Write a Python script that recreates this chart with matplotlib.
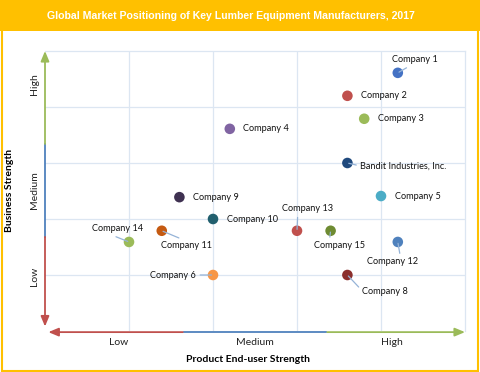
import matplotlib
matplotlib.use("Agg")
import matplotlib.pyplot as plt
from matplotlib.patches import Rectangle

companies = ["Company 1", "Company 2", "Company 3", "Company 4", "Bandit Industries, Inc.",
             "Company 5", "Company 9", "Company 10", "Company 13", "Company 15",
             "Company 11", "Company 14", "Company 12", "Company 6", "Company 8"]
product_strength = [4.20, 3.60, 3.80, 2.20, 3.60, 4.00, 1.60, 2.00, 3.00, 3.40, 1.39, 1.00, 4.20, 2.00, 3.60]
business_strength = [4.61, 4.20, 3.79, 3.61, 3.00, 2.41, 2.39, 2.00, 1.79, 1.79, 1.79, 1.59, 1.59, 1.00, 1.00]
colors = ["#4472C4", "#C0504D", "#9BBB59", "#8064A2", "#1F497D", "#4BACC6", "#3F3151",
          "#215F6E", "#C0504D", "#6E8B32", "#C55A11", "#9BBB59", "#4F81BD", "#F79646", "#8B2E2C"]
x_ticks = ["Low", "Medium", "High"]
y_ticks = ["Low", "Medium", "High"]

# label offsets in pixels (dx, dy), alignment, leader relpos (None = no leader)
label_style = [
    ((17, 13), "center", (0.45, 0.0)),
    ((14, 0), "left", None),
    ((14, 0), "left", None),
    ((13, 0), "left", None),
    ((13, -3), "left", (0.0, 0.5)),
    ((14, 0), "left", None),
    ((14, 0), "left", None),
    ((14, 0), "left", None),
    ((11, 22), "center", (0.3, 0.0)),
    ((9, -15), "center", (0.3, 1.0)),
    ((25, -15), "center", (0.5, 1.0)),
    ((-11, 13), "center", (0.3, 0.0)),
    ((-5, -20), "center", (0.65, 1.0)),
    ((-17, 0), "right", (1.0, 0.5)),
    ((15, -16), "left", (0.0, 0.5)),
]

W, H = 480, 372
fig = plt.figure(figsize=(W / 100, H / 100), dpi=100)
fig.patch.set_facecolor("white")

# border and title bar
fig.add_artist(Rectangle((1.5 / W, 1.5 / H), (W - 4) / W, (H - 3) / H, transform=fig.transFigure,
                         fill=False, edgecolor="#FFC000", lw=1.5))
fig.add_artist(Rectangle((0, 1 - 31 / H), 1, 31 / H, transform=fig.transFigure,
                         facecolor="#FFC000", edgecolor="none"))
fig.text(231 / W, 1 - 16 / H, "Global Market Positioning of Key Lumber Equipment Manufacturers, 2017",
         ha="center", va="center", color="white", fontsize=7.6, fontweight="bold",
         family="Liberation Sans")

ax = fig.add_axes([45 / W, (H - 331) / H, 420 / W, 280 / H])
ax.set_xlim(0, 5)
ax.set_ylim(0, 5)
grid_c = "#DCE6F2"
for v in range(1, 5):
    ax.axvline(v, color=grid_c, lw=0.9, zorder=0)
    ax.axhline(v, color=grid_c, lw=0.9, zorder=0)
for s in ax.spines.values():
    s.set_color(grid_c)
    s.set_linewidth(0.9)
ax.spines["left"].set_visible(False)
ax.spines["bottom"].set_visible(False)
ax.set_xticks([])
ax.set_yticks([])

red, blue, green = "#C0504D", "#4F81BD", "#9BBB59"
# y axis arrows
ax.plot([0, 0], [1.68, 3.34], color=blue, lw=1.3, clip_on=False, zorder=3)
ax.annotate("", xy=(0, 5.0), xytext=(0, 3.34),
            arrowprops=dict(arrowstyle="-|>,head_length=0.6,head_width=0.25", color=green, lw=1.3,
                            shrinkA=0, shrinkB=0), annotation_clip=False)
ax.annotate("", xy=(0, 0.08), xytext=(0, 1.68),
            arrowprops=dict(arrowstyle="-|>,head_length=0.6,head_width=0.25", color=red, lw=1.3,
                            shrinkA=0, shrinkB=0), annotation_clip=False)
# x axis arrows
xa = -0.02
ax.plot([1.66, 3.34], [xa, xa], color=blue, lw=1.3, clip_on=False, zorder=3)
ax.annotate("", xy=(0.04, xa), xytext=(1.64, xa),
            arrowprops=dict(arrowstyle="-|>,head_length=0.6,head_width=0.25", color=red, lw=1.3,
                            shrinkA=0, shrinkB=0), annotation_clip=False)
ax.annotate("", xy=(5.0, xa), xytext=(3.36, xa),
            arrowprops=dict(arrowstyle="-|>,head_length=0.6,head_width=0.25", color=green, lw=1.3,
                            shrinkA=0, shrinkB=0), annotation_clip=False)

# tick category labels
font = "Lato"
for lab, xp in zip(x_ticks, [0.875, 2.5, 4.125]):
    ax.text(xp, -0.2, lab, ha="center", va="center", fontsize=7.5, family=font, color="#222222")
for lab, yp in zip(y_ticks, [0.97, 2.52, 4.4]):
    ax.text(-0.12, yp, lab, ha="center", va="center", rotation=90, fontsize=7.5, family=font,
            color="#222222")

fig.text(248 / W, 1 - 360 / H, "Product End-user Strength", ha="center", va="center",
         fontsize=7.5, fontweight="bold", family=font)
fig.text(10 / W, 1 - 190 / H, "Business Strength", ha="center", va="center", rotation=90,
         fontsize=7.5, fontweight="bold", family=font)

ax.scatter(product_strength, business_strength, s=58, c=colors, zorder=5, edgecolors="none")

for name, x, y, (off, ha, rel) in zip(companies, product_strength, business_strength, label_style):
    kw = {}
    if rel is not None:
        kw["arrowprops"] = dict(arrowstyle="-", color="#95B3D7", lw=0.9, shrinkA=1, shrinkB=1,
                                relpos=rel)
    ax.annotate(name, xy=(x, y), xytext=off, textcoords="offset pixels", ha=ha, va="center",
                fontsize=6.6, family=font, color="#111111", zorder=6, annotation_clip=False, **kw)

fig.savefig("out.png", dpi=100)
